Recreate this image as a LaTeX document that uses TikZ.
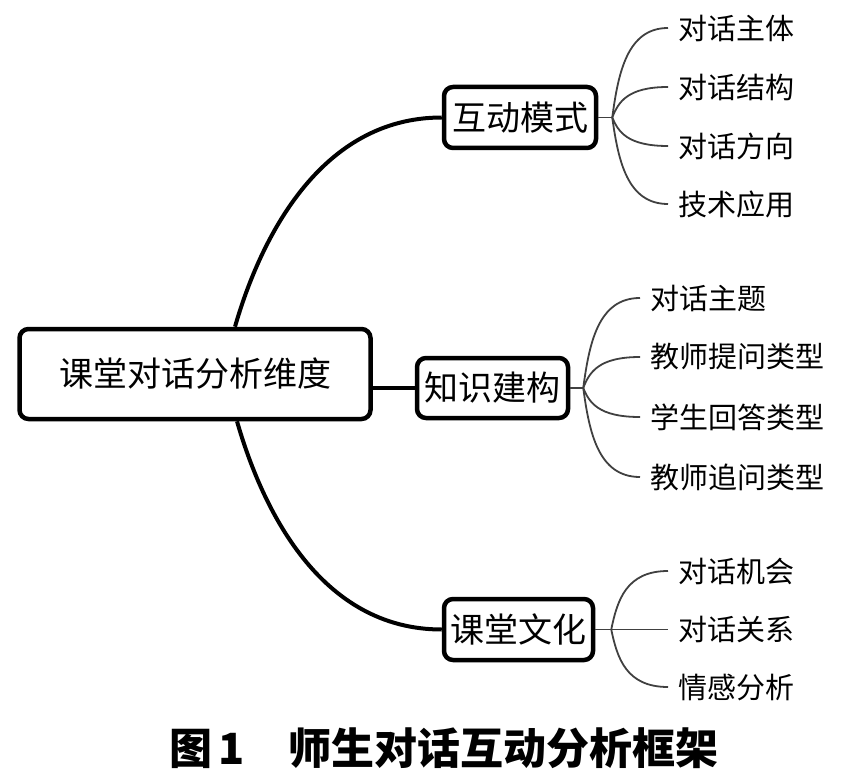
\documentclass[tikz,border=0pt]{standalone}
\usepackage{fontspec}
\usepackage{tikz}
\usetikzlibrary{positioning,calc}
\newfontfamily\cjk{Noto Sans CJK SC}

\begin{document}
\begin{tikzpicture}[x=1pt,y=-1pt]
\tikzstyle{every node} = [font = \cjk]
\tikzstyle{dimbox} = [draw, line width=4.5pt, rounded corners=9pt, fill=white, inner sep=0pt, font=\cjk\fontsize{34pt}{36pt}\selectfont]
\tikzstyle{leaf} = [anchor=west, inner xsep=10pt, inner ysep=0pt, font=\cjk\fontsize{29pt}{31pt}\selectfont]
\tikzstyle{trunk} = [line width=4pt]
\tikzstyle{twig} = [line width=1.8pt, draw=black!75]
\useasboundingbox (0,0) rectangle (853,775);

% main boxes
\node [dimbox, minimum width=351pt, minimum height=90pt] (dims) at (195,374) {课堂对话分析维度};
\node [dimbox, minimum width=152pt, minimum height=61pt] (mode) at (520,117.5) {互动模式};
\node [dimbox, minimum width=151pt, minimum height=60pt] (knowledge) at (492.5,388) {知识建构};
\node [dimbox, minimum width=149pt, minimum height=61pt] (culture) at (518.5,629.5) {课堂文化};

\draw [trunk] ([xshift=40pt]dims.north) .. controls +(25,-87) and +(-122,0) .. (mode.west);
\draw [trunk] (dims.east |- knowledge.west) -- (knowledge.west);
\draw [trunk] ([xshift=42pt]dims.south) .. controls +(25,87) and +(-122,0) .. (culture.west);

% leaves
\coordinate (modehub) at ($(mode.east)+(14,0)$);
\node [leaf] (subject) at (668,28) {对话主体};
\node [leaf] (structure) at (668,87) {对话结构};
\node [leaf] (direction) at (668,146) {对话方向};
\node [leaf] (technique) at (668,204) {技术应用};

\coordinate (knowhub) at ($(knowledge.east)+(13,0)$);
\node [leaf] (topic) at (640,298) {对话主题};
\node [leaf] (question) at (640,357) {教师提问类型};
\node [leaf] (answer) at (640,417) {学生回答类型};
\node [leaf] (probe) at (640,477) {教师追问类型};

\coordinate (culthub) at ($(culture.east)+(16,0)$);
\node [leaf] (chance) at (668,571) {对话机会};
\node [leaf] (relation) at (668,629.5) {对话关系};
\node [leaf] (emotion) at (668,687) {情感分析};

\draw [twig] (mode.east) -- (modehub);
\draw [twig] (knowledge.east) -- (knowhub);
\draw [twig] (culture.east) -- (culthub);
\foreach \hub/\leaves in {modehub/{subject,structure,direction,technique},
                          knowhub/{topic,question,answer,probe},
                          culthub/{chance,relation,emotion}}
  \foreach \l in \leaves
    \draw [twig] (\hub) .. controls ($(\hub)!0.5!(\hub |- \l.west)+(6,0)$)
                        and ($(\hub |- \l.west)+(15,0)$) .. (\l.west);

\node [font=\cjk\bfseries\fontsize{43pt}{45pt}\selectfont] (caption) at (444,748) {图\hspace{6pt}1\hspace{44pt}师生对话互动分析框架};
\end{tikzpicture}
\end{document}
